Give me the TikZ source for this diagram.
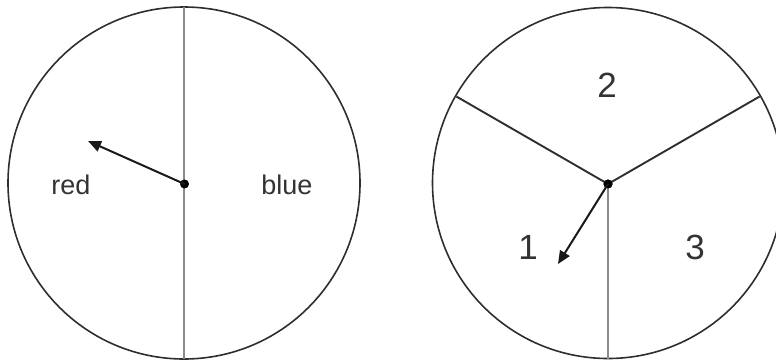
\documentclass[tikz,border=0pt]{standalone}
\usepackage{fontspec}
\setmainfont{Liberation Sans}
\usetikzlibrary{arrows.meta}
\definecolor{rim}{HTML}{2E2E2E}
\definecolor{divgray}{HTML}{8A8A8A}
\definecolor{txt}{HTML}{333333}
\tikzset{
  rimline/.style={draw=rim, line width=1.6pt},
  divline/.style={draw=divgray, line width=2.4pt},
  spoke/.style={draw=rim, line width=1.9pt},
  pointer/.style={draw=black!90, line width=2pt, -{Triangle[length=13pt,width=11pt]}},
  hub/.style={circle, fill=black, inner sep=0pt, minimum size=9pt},
  lab/.style={text=txt, inner sep=0pt},
}
\begin{document}
\begin{tikzpicture}[x=1pt,y=-1pt]
\useasboundingbox (0,0) rectangle (776,361);
\clip (0,0) rectangle (776,361);
% left spinner
\draw[rimline] (184,183) circle (176);
\coordinate (ltop) at (184,7);
\coordinate (lbot) at (184,359);
\draw[divline] (ltop) -- (lbot);
\node[hub] (lc) at (184.5,184) {};
\coordinate (ltip) at (88,141);
\draw[pointer] (lc.center) -- (ltip);
\node[lab, font=\fontsize{27}{30}\selectfont] (red) at (71,185) {red};
\node[lab, font=\fontsize{27}{30}\selectfont] (blue) at (287,185) {blue};
% right spinner
\draw[rimline] (608,183) circle (175.5);
\node[hub] (rc) at (608,184) {};
\coordinate (rbot) at (608,359);
\draw[divline] (rc.center) -- (rbot);
\draw[spoke] (rc.center) -- ++(-151.6,-87.5) coordinate (rul);
\draw[spoke] (rc.center) -- ++(151.6,-87.5) coordinate (rur);
\node[hub] at (rc.center) {};
\coordinate (rtip) at (558,264);
\draw[pointer] (rc.center) -- (rtip);
\node[lab, font=\fontsize{35}{40}\selectfont] (n2) at (607,85) {2};
\node[lab, font=\fontsize{35}{40}\selectfont] (n1) at (528,247) {1};
\node[lab, font=\fontsize{35}{40}\selectfont] (n3) at (695,247) {3};
\end{tikzpicture}
\end{document}
